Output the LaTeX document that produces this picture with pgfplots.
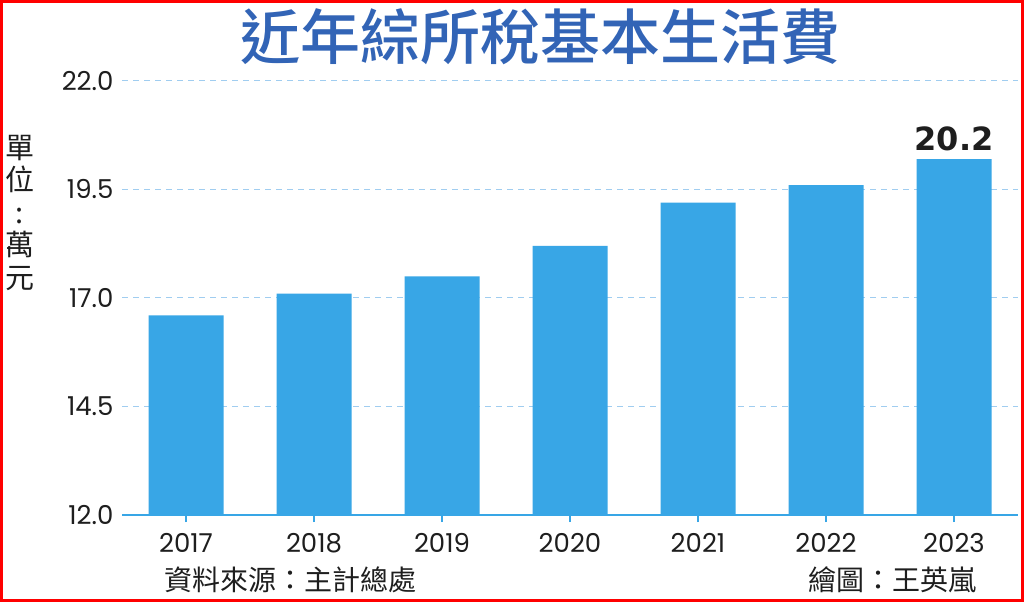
\documentclass[border=0pt]{standalone}
\usepackage{pgfplots}
\pgfplotsset{compat=1.18}
\usepackage{fontspec}
\setmainfont{Poppins}
\newfontfamily\cjk{Noto Sans CJK TC}
\newfontfamily\cjkmed{Noto Sans CJK TC Medium}
\newfontfamily\numbold{DejaVu Sans}
\definecolor{barblue}{RGB}{56,166,230}
\definecolor{titleblue}{RGB}{50,100,182}
\definecolor{gridblue}{RGB}{160,205,240}
\definecolor{txt}{RGB}{30,30,30}
\begin{document}
\begin{tikzpicture}[x=1pt,y=1pt]
\fill[white] (0,0) rectangle (1024,602);
\draw[red, line width=3pt] (1.5,1.5) rectangle (1022.5,600.5);
\begin{axis}[
  at={(122pt,87pt)}, anchor=south west,
  scale only axis, width=896pt, height=434pt,
  xmin=-0.5, xmax=6.5, ymin=12, ymax=22,
  axis x line=bottom, axis y line=left,
  x axis line style={-, barblue, line width=2.5pt},
  y axis line style={draw=none},
  xtick={0,...,6},
  xticklabels={2017,2018,2019,2020,2021,2022,2023},
  ytick={12,14.5,17,19.5,22},
  yticklabel={\pgfmathprintnumber[fixed,fixed zerofill,precision=1]{\tick}},
  /pgf/number format/assume math mode=true,
  tick align=outside,
  major tick length=7pt,
  xtick style={barblue, line width=2pt},
  ytick style={draw=none},
  ymajorgrids,
  grid style={gridblue, line width=1pt, dash pattern=on 6pt off 5pt},
  ticklabel style={font=\fontsize{26}{26}\selectfont, text=txt},
  xticklabel style={yshift=-8pt},
  yticklabel style={xshift=2pt},
  clip=false,
]
\addplot[ybar, bar width=75pt, fill=barblue, draw=none] coordinates {
(0,16.6) (1,17.1) (2,17.5) (3,18.2) (4,19.2) (5,19.6) (6,20.2)};
\node[anchor=south, font=\numbold\bfseries\fontsize{32}{32}\selectfont, text=txt, yshift=5pt] at (axis cs:6,20.2) {20.2};
\end{axis}
\node[font=\cjkmed\fontsize{60}{60}\selectfont, text=titleblue] at (540,565) {近年綜所稅基本生活費};
\node[font=\cjk\fontsize{29}{32.5}\selectfont, text=txt, align=center] at (20,389) {單\\位\\:\\萬\\元};
\node[anchor=west, font=\cjk\fontsize{28}{28}\selectfont, text=txt] at (161,22) {資料來源：主計總處};
\node[anchor=east, font=\cjk\fontsize{28}{28}\selectfont, text=txt] at (980,22) {繪圖：王英嵐};
\end{tikzpicture}
\end{document}
